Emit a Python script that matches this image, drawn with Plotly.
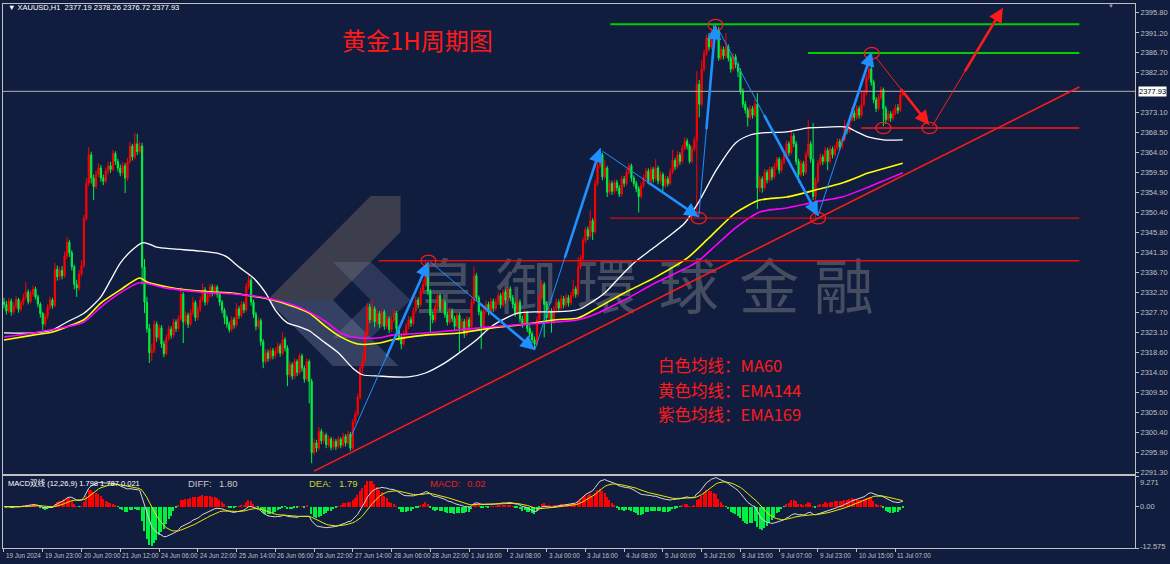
import plotly.graph_objects as go

# ---------------- DATA ----------------
first_open = 2330.0
closes = [
2329.5,2328.0,2330.2,2327.8,2329.0,2330.6,2328.4,2329.8,2331.0,2332.3,
2330.1,2331.8,2333.0,2331.2,2329.6,2327.4,2325.0,2326.8,2328.9,2330.5,
2329.2,2337.5,2335.8,2337.2,2336.0,2340.5,2343.6,2341.2,2338.0,2334.0,
2333.2,2336.4,2338.3,2349.0,2357.0,2363.5,2358.2,2356.3,2359.0,2360.5,
2358.2,2357.5,2359.8,2361.0,2360.2,2363.8,2362.0,2360.5,2359.4,2361.0,
2358.2,2362.0,2365.5,2363.0,2366.0,2364.2,2365.5,2338.0,2330.0,2324.0,
2318.5,2319.0,2325.0,2322.0,2324.2,2320.5,2318.3,2321.8,2323.9,2322.5,
2325.5,2324.0,2326.2,2331.8,2325.5,2327.0,2325.0,2327.6,2329.9,2326.5,
2328.4,2330.5,2332.8,2330.0,2331.5,2333.5,2332.0,2333.4,2331.8,2330.0,
2328.2,2326.5,2325.0,2323.8,2326.0,2324.8,2328.5,2327.0,2329.5,2328.2,
2333.5,2335.0,2330.0,2327.2,2324.5,2325.8,2321.0,2316.5,2318.5,2317.2,
2319.0,2317.8,2318.8,2320.0,2318.4,2321.5,2319.6,2313.5,2315.8,2313.2,
2316.5,2314.0,2317.8,2315.0,2312.5,2316.5,2312.0,2295.8,2298.0,2296.8,
2300.6,2298.5,2299.8,2297.6,2298.9,2297.0,2298.4,2297.2,2298.8,2297.5,
2299.5,2298.0,2300.0,2296.8,2302.8,2304.5,2308.4,2315.0,2316.8,2322.5,
2328.9,2326.0,2328.5,2325.5,2327.4,2325.0,2327.8,2324.5,2326.2,2323.8,
2325.9,2327.5,2324.0,2322.0,2320.5,2322.8,2324.5,2326.0,2325.2,2328.0,
2330.5,2329.4,2332.5,2334.0,2337.5,2332.5,2327.0,2326.0,2329.0,2331.5,
2328.4,2330.0,2327.2,2325.5,2328.0,2326.3,2324.5,2327.0,2324.0,2325.6,
2322.8,2326.0,2324.4,2330.0,2336.0,2331.0,2327.8,2324.5,2328.0,2329.5,
2327.8,2330.2,2328.6,2330.0,2331.5,2329.4,2332.3,2330.5,2333.0,2331.0,
2329.5,2327.5,2330.0,2326.2,2325.0,2327.5,2324.0,2322.8,2321.5,2320.5,
2326.0,2331.0,2334.0,2329.5,2326.5,2328.0,2325.5,2328.4,2330.0,2328.7,
2330.8,2329.4,2331.0,2329.8,2331.5,2333.0,2331.8,2338.0,2340.0,2344.0,
2346.5,2345.0,2348.5,2346.0,2357.0,2361.0,2363.5,2358.5,2360.5,2355.0,
2357.0,2355.2,2357.2,2356.0,2354.6,2358.0,2357.0,2359.5,2361.0,2358.2,
2357.0,2355.8,2354.0,2356.5,2358.2,2359.8,2357.5,2360.2,2358.0,2360.5,
2357.6,2359.0,2356.5,2358.0,2357.0,2359.6,2362.2,2360.8,2363.5,2362.0,
2365.0,2366.6,2365.5,2362.0,2364.8,2366.8,2379.5,2375.0,2383.0,2386.5,
2390.0,2388.0,2391.5,2390.0,2392.0,2385.5,2387.5,2386.0,2388.0,2385.5,
2383.0,2385.8,2384.0,2382.5,2378.0,2375.0,2373.7,2372.0,2374.0,2372.5,
2375.0,2356.0,2358.0,2356.0,2359.5,2357.8,2360.2,2358.5,2360.8,2362.5,
2360.0,2361.8,2363.5,2366.0,2364.0,2367.8,2366.0,2362.0,2359.0,2361.5,
2359.5,2363.5,2366.0,2362.5,2354.0,2357.5,2361.5,2363.0,2362.0,2364.5,
2362.0,2364.8,2363.5,2365.0,2366.5,2365.3,2367.0,2370.0,2369.0,2371.5,
2373.0,2372.0,2374.0,2372.5,2375.0,2377.5,2381.0,2383.0,2380.0,2376.0,
2374.0,2376.5,2378.3,2374.0,2371.5,2372.8,2371.8,2373.0,2374.2,2373.6,
2377.19,2377.93]
highs = [
2331.0,2330.3,2331.0,2330.8,2329.9,2331.4,2331.0,2330.5,2331.9,2334.6,
2332.9,2332.6,2333.8,2333.5,2331.7,2330.0,2327.8,2327.5,2329.6,2331.2,
2331.0,2338.9,2338.3,2338.0,2338.2,2341.5,2344.8,2344.2,2341.8,2338.5,
2335.0,2337.3,2339.5,2349.8,2358.2,2365.2,2364.2,2359.0,2359.9,2361.6,
2361.2,2359.0,2360.6,2362.0,2361.9,2364.6,2364.3,2362.6,2361.3,2361.9,
2361.6,2362.8,2366.4,2366.0,2368.5,2368.3,2366.5,2366.2,2339.8,2331.2,
2325.0,2320.6,2325.9,2325.6,2325.0,2324.8,2321.2,2322.6,2324.7,2324.5,
2326.3,2326.1,2327.0,2333.4,2332.3,2327.9,2327.6,2328.4,2331.2,2330.4,
2329.2,2331.3,2334.3,2333.4,2332.3,2334.2,2334.1,2334.0,2333.9,2332.3,
2330.5,2328.7,2327.0,2325.6,2326.8,2326.6,2329.8,2329.1,2330.3,2330.1,
2334.4,2336.2,2335.6,2330.6,2327.8,2326.6,2326.3,2321.6,2319.3,2319.2,
2319.7,2319.6,2319.6,2320.8,2320.6,2323.1,2322.1,2320.2,2316.6,2316.3,
2317.3,2317.0,2318.4,2318.3,2315.6,2317.3,2317.0,2312.6,2299.0,2298.7,
2301.6,2301.2,2300.6,2300.3,2299.7,2299.4,2299.2,2298.9,2299.6,2299.3,
2300.3,2300.0,2300.8,2300.5,2303.5,2305.3,2309.2,2315.8,2318.4,2323.5,
2329.8,2329.6,2330.5,2329.1,2328.2,2328.0,2328.5,2328.3,2327.0,2326.8,
2326.7,2328.3,2328.0,2324.6,2322.6,2323.6,2325.3,2326.8,2326.7,2328.8,
2331.3,2331.1,2333.3,2335.0,2339.4,2338.2,2333.0,2327.8,2329.8,2332.0,
2332.0,2330.8,2330.6,2327.8,2328.8,2328.6,2326.9,2327.8,2327.6,2326.4,
2326.2,2326.8,2326.6,2330.8,2338.0,2336.6,2331.5,2328.3,2328.8,2330.3,
2330.1,2331.0,2330.8,2330.8,2332.3,2332.1,2333.0,2332.9,2333.4,2333.6,
2331.6,2330.1,2330.8,2330.6,2326.9,2328.3,2328.0,2324.7,2323.4,2322.2,
2326.8,2331.8,2335.0,2334.6,2330.1,2328.8,2328.6,2329.2,2330.8,2330.6,
2331.6,2331.4,2331.8,2331.6,2332.3,2335.0,2333.6,2340.3,2340.8,2344.8,
2347.1,2347.2,2350.9,2349.1,2357.8,2361.8,2364.6,2364.0,2362.3,2361.0,
2357.8,2357.6,2357.9,2357.8,2356.6,2358.8,2358.7,2360.3,2361.6,2361.5,
2358.8,2357.6,2356.4,2357.3,2359.0,2360.5,2360.4,2360.8,2360.7,2362.5,
2361.0,2359.8,2359.5,2358.8,2358.6,2360.4,2364.6,2362.8,2364.3,2364.1,
2365.8,2367.5,2367.2,2366.0,2365.6,2367.6,2382.5,2380.5,2385.0,2387.4,
2390.8,2391.2,2392.3,2393.0,2393.0,2392.6,2388.3,2388.1,2391.2,2388.6,
2386.1,2386.6,2386.4,2384.6,2383.1,2378.6,2375.7,2374.3,2374.8,2374.6,
2376.0,2377.5,2358.8,2358.6,2360.3,2360.1,2360.8,2360.8,2361.6,2363.0,
2363.0,2362.6,2364.3,2366.8,2366.6,2369.2,2368.4,2366.6,2362.6,2362.3,
2362.1,2364.3,2371.4,2366.6,2370.7,2358.3,2362.3,2363.8,2363.6,2365.3,
2365.1,2365.6,2365.4,2365.8,2367.3,2367.1,2367.8,2371.4,2370.6,2372.3,
2374.4,2373.6,2374.8,2374.6,2378.2,2378.3,2381.8,2384.5,2386.0,2380.6,
2376.6,2377.3,2379.0,2378.8,2374.6,2373.6,2373.4,2373.8,2375.0,2375.0,
2377.8,2378.26]
lows = [
2328.6,2327.2,2327.5,2326.9,2327.2,2328.5,2327.6,2327.9,2329.3,2330.6,
2329.5,2329.7,2331.2,2330.6,2328.8,2326.5,2323.7,2324.4,2326.2,2328.3,
2328.5,2328.8,2334.9,2335.0,2335.2,2335.5,2339.8,2340.3,2337.2,2332.9,
2331.2,2332.6,2335.8,2337.8,2348.5,2356.4,2357.0,2353.2,2355.7,2358.4,
2357.4,2356.6,2357.0,2359.0,2359.4,2359.8,2361.2,2359.7,2358.6,2358.8,
2354.8,2357.6,2361.5,2362.2,2362.5,2363.4,2363.8,2334.0,2327.5,2323.1,
2316.2,2316.6,2318.4,2321.0,2321.4,2319.6,2317.5,2317.9,2321.2,2321.7,
2322.0,2323.2,2323.5,2325.8,2320.7,2324.8,2324.1,2324.5,2327.0,2325.7,
2325.9,2327.8,2330.0,2329.2,2329.4,2331.0,2331.3,2331.5,2331.0,2329.2,
2327.4,2325.0,2324.2,2323.1,2323.3,2324.0,2324.3,2326.2,2326.5,2327.5,
2327.7,2332.9,2329.2,2326.4,2323.6,2323.9,2320.1,2315.0,2316.0,2316.5,
2316.7,2317.0,2317.2,2318.2,2317.6,2318.0,2318.8,2310.9,2312.9,2312.4,
2312.6,2313.2,2313.5,2314.2,2311.7,2312.0,2307.0,2293.4,2295.2,2295.9,
2296.3,2297.7,2297.9,2296.8,2297.0,2296.3,2296.5,2296.4,2296.7,2296.8,
2297.0,2297.2,2297.5,2296.2,2296.4,2302.2,2304.0,2307.9,2313.8,2316.2,
2322.0,2325.2,2325.4,2324.3,2324.9,2324.2,2324.4,2323.7,2323.9,2323.0,
2323.2,2325.3,2323.2,2321.2,2319.3,2320.0,2322.2,2323.9,2324.4,2324.7,
2327.5,2328.6,2328.9,2331.9,2333.5,2331.6,2323.1,2325.2,2325.5,2328.5,
2327.6,2327.8,2326.4,2324.7,2325.0,2325.5,2323.7,2324.0,2318.5,2323.4,
2321.9,2322.3,2323.6,2323.9,2329.5,2330.2,2327.0,2319.3,2324.0,2327.4,
2327.0,2327.2,2327.8,2328.0,2329.4,2328.6,2328.9,2329.7,2330.0,2330.2,
2328.7,2326.7,2327.0,2325.4,2324.2,2324.5,2323.2,2322.0,2320.7,2319.3,
2320.0,2325.5,2330.4,2322.0,2325.7,2325.9,2323.1,2325.0,2327.8,2327.9,
2328.2,2328.6,2328.9,2329.0,2329.3,2331.0,2331.0,2331.3,2337.4,2339.5,
2343.4,2344.1,2344.5,2344.1,2345.5,2356.4,2360.4,2357.7,2358.0,2353.9,
2354.4,2354.4,2354.7,2355.2,2353.9,2354.1,2356.2,2356.5,2359.0,2357.4,
2356.3,2355.0,2350.4,2353.5,2356.0,2357.6,2356.8,2357.0,2357.2,2357.5,
2356.8,2357.0,2355.2,2356.0,2356.3,2356.6,2359.1,2360.0,2360.3,2361.2,
2361.5,2364.5,2364.7,2361.5,2361.6,2364.3,2349.3,2372.0,2374.5,2382.4,
2386.0,2387.2,2387.5,2389.2,2389.5,2384.9,2385.0,2385.2,2385.5,2384.7,
2382.2,2382.5,2383.2,2381.2,2377.2,2374.2,2372.9,2369.9,2371.5,2371.7,
2372.0,2351.2,2355.0,2354.9,2355.5,2357.0,2357.3,2357.7,2358.0,2360.2,
2359.2,2359.5,2361.3,2363.0,2363.2,2363.5,2365.2,2361.2,2357.2,2358.5,
2358.7,2359.0,2363.0,2361.7,2353.2,2349.3,2357.0,2361.0,2361.2,2361.5,
2360.0,2361.5,2362.7,2363.0,2364.5,2364.5,2364.8,2366.5,2368.2,2368.5,
2371.0,2371.2,2371.5,2371.7,2372.0,2374.5,2377.0,2380.4,2379.2,2375.2,
2373.2,2373.5,2376.0,2370.0,2370.5,2371.0,2371.0,2371.3,2372.5,2372.8,
2373.2,2376.72]
opens = [first_open] + closes[:-1]
bar_idx = list(range(len(closes)))

time_label_idx = [0,16,32,48,64,80,96,112,128,144,160,176,192,208,224,240,256,272,288,304,320,336,352,368]
time_labels = ["19 Jun 2024","19 Jun 23:00","20 Jun 20:00","21 Jun 12:00","24 Jun 06:00","24 Jun 22:00",
               "25 Jun 14:00","26 Jun 06:00","26 Jun 22:00","27 Jun 14:00","28 Jun 06:00","28 Jun 22:00",
               "1 Jul 16:00","2 Jul 08:00","3 Jul 00:00","3 Jul 16:00","4 Jul 08:00","5 Jul 00:00",
               "5 Jul 21:00","8 Jul 15:00","9 Jul 07:00","9 Jul 23:00","10 Jul 15:00","11 Jul 07:00"]
price_tick_labels = ["2395.80","2391.20","2386.70","2382.20","2373.10","2368.50","2364.00","2359.50",
                     "2354.90","2350.40","2345.80","2341.30","2336.70","2332.20","2327.70","2323.10",
                     "2318.60","2314.00","2309.50","2305.00","2300.40","2295.90","2291.30"]
macd_tick_labels = ["9.271", "0.00", "-12.575"]
legend_lines = ["白色均线：MA60", "黄色均线：EMA144", "紫色均线：EMA169"]

ma60_idx = [0,12,20,26,33,40,44,48,53,57,60,63,70,81,89,92,97,103,108,112,117,122,126,131,138,144,148,155,167,174,
            182,188,195,201,208,212,219,226,234,238,242,248,253,260,267,274,281,287,294,302,308,313,323,332,340,348,352,357,363,371]
ma60_val = [2323.0,2323.0,2323.7,2325.5,2327.5,2331.2,2335.0,2338.9,2341.9,2343.5,2343.2,2342.5,2342.1,2341.6,2341.0,
            2340.3,2338.0,2335.5,2332.1,2328.2,2325.3,2324.4,2323.5,2321.4,2318.5,2315.0,2313.5,2313.2,2313.0,2313.9,
            2316.2,2318.5,2321.4,2324.4,2326.6,2327.5,2327.8,2327.8,2328.0,2328.5,2329.8,2332.1,2335.0,2338.9,2341.9,
            2344.8,2348.0,2353.0,2360.0,2366.2,2368.0,2368.5,2368.7,2369.6,2369.8,2369.8,2368.7,2367.5,2366.9,2366.9]
ema144_idx = [0,12,20,26,33,40,48,56,59,67,75,86,94,102,111,119,126,133,139,146,155,160,174,188,201,215,228,237,245,
              256,269,282,291,302,312,323,335,346,357,364,371]
ema144_val = [2321.4,2322.5,2323.2,2324.4,2326.0,2329.8,2332.8,2335.5,2334.6,2333.5,2332.8,2332.3,2332.1,2331.4,2330.5,
              2329.1,2327.5,2324.4,2322.1,2320.5,2320.7,2321.4,2322.5,2323.0,2324.1,2325.0,2326.0,2326.4,2328.7,2332.1,
              2335.7,2340.0,2344.6,2350.3,2353.2,2353.9,2355.5,2357.1,2359.4,2360.5,2361.6]
ema169_idx = [0,12,26,33,40,48,56,67,81,94,108,119,126,133,139,146,155,160,174,188,201,215,228,237,245,256,269,286,
              294,302,312,323,335,346,357,364,371]
ema169_val = [2322.1,2323.0,2324.4,2325.5,2328.9,2332.1,2334.4,2333.2,2332.3,2331.9,2331.0,2329.4,2327.8,2325.5,2323.0,
              2321.9,2321.9,2322.5,2323.0,2323.7,2324.4,2325.0,2325.5,2326.0,2327.5,2330.5,2334.4,2339.1,2343.0,2346.9,
              2350.5,2351.4,2352.8,2353.9,2356.2,2357.8,2359.4]

# MACD (12,26,9) computed from the closes
def ema(vals, n):
    k = 2.0 / (n + 1)
    out = [vals[0]]
    for v in vals[1:]:
        out.append(out[-1] + k * (v - out[-1]))
    return out
e12 = ema(closes, 12)
e26 = ema(closes, 26)
diff = [a - b for a, b in zip(e12, e26)]
dea = ema(diff, 9)
hist = [2 * (a - b) for a, b in zip(diff, dea)]

# ---------------- STYLE ----------------
BG = "#111D3E"
UP = "#FF0000"
DOWN = "#00F040"
AX = "#C0C0C0"
SMALL = "Liberation Sans Narrow, Liberation Sans"
W, H = 1170, 564
L, R, T, B = 2, 29, 4, 16
PW, PH = W - L - R, H - T - B
def px(x): return (x - L) / PW
def py(y): return (H - B - y) / PH

XR = [-0.41, 466.87]
YR = [2290.94, 2397.78]
MR = [-12.575, 9.271]

fig = go.Figure()
fig.add_trace(go.Candlestick(
    x=bar_idx, open=opens, high=highs, low=lows, close=closes,
    increasing=dict(line=dict(color=UP, width=1), fillcolor=UP),
    decreasing=dict(line=dict(color=DOWN, width=1), fillcolor=DOWN),
    whiskerwidth=0, hoverinfo="skip", showlegend=False, xaxis="x", yaxis="y"))
fig.add_trace(go.Scatter(x=ma60_idx, y=ma60_val, mode="lines", line=dict(color="#FFFFFF", width=1.3, shape="spline", smoothing=0.7),
                         hoverinfo="skip", showlegend=False))
fig.add_trace(go.Scatter(x=ema144_idx, y=ema144_val, mode="lines", line=dict(color="#FFFF00", width=1.6, shape="spline", smoothing=0.7),
                         hoverinfo="skip", showlegend=False))
fig.add_trace(go.Scatter(x=ema169_idx, y=ema169_val, mode="lines", line=dict(color="#FF00FF", width=1.6, shape="spline", smoothing=0.7),
                         hoverinfo="skip", showlegend=False))
# MACD
fig.add_trace(go.Bar(x=bar_idx, y=hist, width=0.6,
                     marker=dict(color=[UP if h >= 0 else DOWN for h in hist], line=dict(width=0)),
                     xaxis="x2", yaxis="y2", hoverinfo="skip", showlegend=False))
fig.add_trace(go.Scatter(x=bar_idx, y=diff, mode="lines", line=dict(color="#D8D8D8", width=1),
                         xaxis="x2", yaxis="y2", hoverinfo="skip", showlegend=False))
fig.add_trace(go.Scatter(x=bar_idx, y=dea, mode="lines", line=dict(color="#E8E800", width=1),
                         xaxis="x2", yaxis="y2", hoverinfo="skip", showlegend=False))

shapes = []
annos = []

# watermark logo (decorative)
def path(pts):
    return "M " + " L ".join(f"{px(a):.5f} {py(b):.5f}" for a, b in pts) + " Z"
shapes.append(dict(type="path", xref="paper", yref="paper", layer="below", line=dict(width=0),
                   fillcolor="rgba(125,110,100,0.40)",
                   path=path([(268, 300), (372, 196), (402, 196), (402, 232), (334, 300)])))
shapes.append(dict(type="path", xref="paper", yref="paper", layer="below", line=dict(width=0),
                   fillcolor="rgba(140,150,185,0.30)",
                   path=path([(268, 300), (334, 300), (400, 366), (334, 366)])))
shapes.append(dict(type="path", xref="paper", yref="paper", layer="below", line=dict(width=0),
                   fillcolor="rgba(140,150,185,0.22)",
                   path=path([(334, 262), (372, 262), (412, 300), (372, 338), (334, 338), (372, 300)])))
# watermark text
wm_chars = ["皇", "御", "環", "球", "金", "融"]
wm_x = [447, 528, 610, 692, 773, 848]
for ch, cx in zip(wm_chars, wm_x):
    shapes.append(dict(type="rect", xref="paper", yref="paper", layer="below",
                       x0=px(cx - 35), x1=px(cx + 35), y0=py(330), y1=py(255),
                       line=dict(width=0), fillcolor="rgba(0,0,0,0)",
                       label=dict(text=ch, font=dict(family="Noto Sans CJK TC", size=60, color="rgba(150,150,150,0.40)"),
                                  textposition="middle center")))

# current price line
shapes.append(dict(type="line", xref="paper", yref="y", x0=0, x1=1, y0=closes[-1], y1=closes[-1],
                   line=dict(color="#B4B4B4", width=1)))

# horizontal levels (price, start index)
RIGHT_END = 443.9
for lvl, x0, col, wdt in [(2393.2, 250.3, "#00D000", 2), (2386.64, 331.9, "#00D000", 2),
                          (2369.6, 354.0, "#FF1A1A", 1.6), (2349.1, 250.3, "#D01010", 1.1),
                          (2339.4, 154.7, "#E01010", 1.6)]:
    shapes.append(dict(type="line", xref="x", yref="y", x0=x0, x1=RIGHT_END, y0=lvl, y1=lvl,
                       line=dict(color=col, width=wdt)))
# trend line
shapes.append(dict(type="line", xref="x", yref="y", x0=128.0, y0=2291.6, x1=RIGHT_END, y1=2378.9,
                   line=dict(color="#FF1A1A", width=1.6)))
# circles at swing points
for cx, cy in [(175.2, 2339.4), (286.8, 2349.1), (293.7, 2393.0), (336.0, 2349.1),
               (358.2, 2386.6), (363.0, 2369.6), (382.0, 2369.6)]:
    shapes.append(dict(type="circle", xref="x", yref="y", x0=cx - 3.1, x1=cx + 3.1, y0=cy - 1.3, y1=cy + 1.3,
                       line=dict(color="#FF1A1A", width=1.2)))

# arrows: (tail idx, tail price, head idx, head price, color)
arrows = [(143.2, 2299.35, 175.2, 2339.13, "#1E90FF"),
          (176.0, 2339.13, 219.1, 2319.13, "#1E90FF"),
          (219.1, 2319.13, 246.2, 2365.05, "#1E90FF"),
          (247.0, 2364.36, 286.8, 2349.36, "#1E90FF"),
          (286.8, 2349.36, 293.7, 2393.00, "#1E90FF"),
          (295.0, 2391.87, 336.0, 2349.59, "#1E90FF"),
          (336.0, 2349.59, 358.2, 2386.87, "#1E90FF"),
          (359.8, 2385.73, 381.9, 2370.27, "#FF1A1A"),
          (383.2, 2370.05, 412.3, 2396.87, "#FF1A1A")]
for tx, ty, hx, hy, col in arrows:
    shapes.append(dict(type="line", xref="x", yref="y", x0=tx, y0=ty, x1=hx, y1=hy, line=dict(color=col, width=1)))
    sx, sy = tx + 0.45 * (hx - tx), ty + 0.45 * (hy - ty)
    annos.append(dict(xref="x", yref="y", axref="x", ayref="y", x=hx, y=hy, ax=sx, ay=sy, text="",
                      showarrow=True, arrowhead=2, arrowsize=1.1, arrowwidth=2.6, arrowcolor=col,
                      standoff=0, startstandoff=0))

# texts
def txt(x, y, s, size, color, family="Liberation Sans", xanchor="left"):
    annos.append(dict(xref="paper", yref="paper", x=px(x), y=py(y), text=s, showarrow=False, align="left",
                      xanchor=xanchor, yanchor="middle", font=dict(family=family, size=size, color=color)))

CJK = "Noto Sans CJK SC"
txt(341, 39, "黄金1H周期图", 24, "#FF1A1A", CJK)
for line_text, ly in zip(legend_lines, [365, 389.5, 414]):
    txt(659, ly, line_text, 16.5, "#FF1A1A", CJK)
txt(5, 8, "▼ XAUUSD,H1  2377.19 2378.26 2376.72 2377.93", 7.5, "#FFFFFF")
txt(5, 483, "MACD双线 (12,26,9) 1.798 1.787 0.021", 7.5, "#FFFFFF", "Liberation Sans, Noto Sans CJK SC")
txt(186, 483, "DIFF:", 9.5, "#C8C8C8")
txt(217, 483, "1.80", 9.5, "#C8C8C8")
txt(308, 483, "DEA:", 9.5, "#D2D22A")
txt(338, 483, "1.79", 9.5, "#D2D22A")
txt(430, 483, "MACD:", 9.5, "#E61E1E")
txt(467, 483, "0.02", 9.5, "#E61E1E")
txt(1112, 6, "▼", 6, "#9A9A9A")

# current price label on axis
annos.append(dict(xref="paper", yref="y", x=1, y=closes[-1], text=f"{closes[-1]:.2f}", showarrow=False,
                  xanchor="left", yanchor="middle", xshift=3, bgcolor="#FFFFFF", borderpad=0,
                  font=dict(family="Liberation Sans", size=7.5, color="#000000")))
# MACD axis labels (MT4 style: top label below the edge)
for val, lab, anc, ys in [(9.271, macd_tick_labels[0], "top", 0), (0.0, macd_tick_labels[1], "middle", 0),
                          (-12.575, macd_tick_labels[2], "middle", 2)]:
    annos.append(dict(xref="paper", yref="y2", x=1, y=val, text=lab, showarrow=False, xanchor="left",
                      yanchor=anc, xshift=3, yshift=ys, font=dict(family="Liberation Sans", size=7.5, color=AX)))
# time axis labels (left-aligned at tick, MT4 style)
for ti, tl in zip(time_label_idx, time_labels):
    annos.append(dict(xref="x2", yref="paper", x=ti, y=0, yshift=-2, text=tl, showarrow=False,
                      xanchor="left", yanchor="top", xshift=0,
                      font=dict(family=SMALL, size=6.3, color=AX)))

fig.update_layout(
    width=W, height=H, margin=dict(l=L, r=R, t=T, b=B),
    paper_bgcolor=BG, plot_bgcolor=BG, showlegend=False, bargap=0,
    shapes=shapes, annotations=annos,
    xaxis=dict(domain=[0, 1], range=XR, anchor="y", showgrid=False, zeroline=False, showticklabels=False,
               ticks="", showline=True, mirror=True, linecolor=AX, linewidth=1, rangeslider=dict(visible=False)),
    yaxis=dict(domain=[py(474), 1], range=YR, side="right", anchor="x", showgrid=False, zeroline=False,
               tickvals=[float(v) for v in price_tick_labels], ticktext=price_tick_labels,
               ticks="outside", ticklen=3, tickcolor=AX, showline=True, mirror=True, linecolor=AX, linewidth=1,
               tickfont=dict(family="Liberation Sans", size=7.5, color=AX)),
    xaxis2=dict(domain=[0, 1], range=XR, anchor="y2", matches="x", showgrid=False, zeroline=False,
                tickvals=time_label_idx, ticktext=["" for _ in time_labels], ticks="outside", ticklen=3,
                tickcolor=AX, showline=True, mirror=True, linecolor=AX, linewidth=1),
    yaxis2=dict(domain=[0, py(476)], range=MR, side="right", anchor="x2", showgrid=False, zeroline=False,
                tickvals=[float(v) for v in macd_tick_labels], ticktext=["" for _ in macd_tick_labels],
                ticks="outside", ticklen=3, tickcolor=AX, showline=True, mirror=True, linecolor=AX, linewidth=1),
)
fig.write_html("out.html")
